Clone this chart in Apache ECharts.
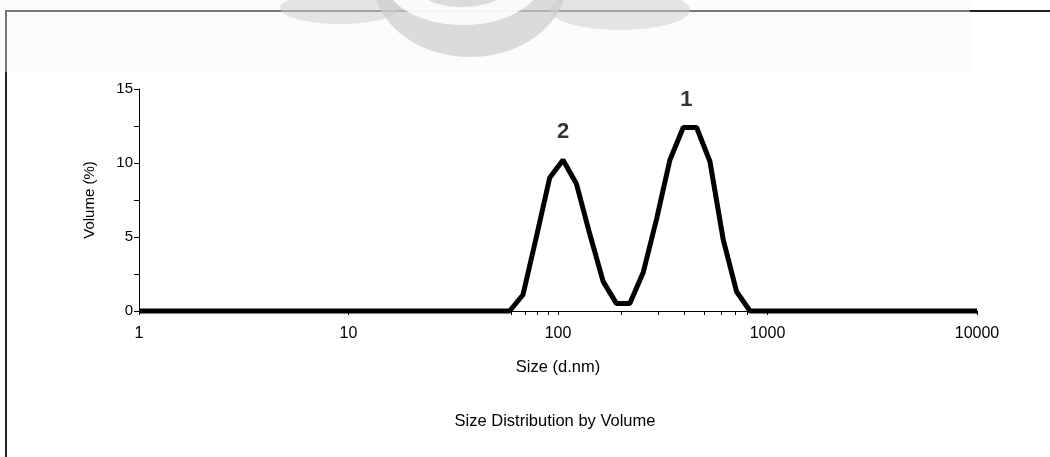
<!DOCTYPE html>
<html>
<head>
<meta charset="utf-8">
<script src="https://cdn.jsdelivr.net/npm/echarts@6/dist/echarts.min.js"></script>
<style>
  html, body { margin: 0; padding: 0; background: #fff; }
  #chart { width: 1050px; height: 457px; }
</style>
</head>
<body>
<div id="chart"></div>
<script>
// size bins (d.nm) and volume (%)
var sizes = [1, 50.75, 58.77, 68.06, 78.82, 91.28, 105.7, 122.4, 141.8, 164.2, 190.1, 220.2,
  255.0, 295.3, 342.0, 396.1, 458.7, 531.2, 615.1, 712.4, 825.0, 955.4, 10000]
var volumes = [0, 0, 0, 1.1, 5.0, 9.0, 10.2, 8.6, 5.2, 2.0, 0.5, 0.5,
  2.6, 6.2, 10.2, 12.4, 12.4, 10.1, 4.8, 1.3, 0, 0, 0]
// peak labels
var peakNames = ['2', '1']
var peakSizes = [105.7, 410]
var peakVolumes = [10.2, 12.4]
// axis ticks
var xLabelValues = [1, 10, 100, 1000, 10000]
var xTickValues = [1, 10, 60, 70, 80, 90, 100, 200, 300, 400, 500, 600, 700, 800, 1000, 10000]

var font = 'Liberation Sans, Arial, sans-serif'
var chart = echarts.init(document.getElementById('chart'))

chart.setOption({
  animation: false,
  textStyle: { fontFamily: font, color: '#000' },
  title: {
    text: 'Size Distribution by Volume',
    left: 550,
    top: 408,
    textAlign: 'center',
    textStyle: { fontSize: 16.5, fontWeight: 'normal', color: '#000', fontFamily: font }
  },
  grid: { left: 139, right: 73, top: 89, bottom: 146, containLabel: false },
  xAxis: {
    type: 'log',
    logBase: 10,
    min: 1,
    max: 10000,
    name: 'Size (d.nm)',
    nameLocation: 'middle',
    nameGap: 48,
    nameTextStyle: { fontSize: 16.5, color: '#000' },
    axisLine: { lineStyle: { color: '#000', width: 1 } },
    axisTick: { show: true, length: 4, customValues: xTickValues, lineStyle: { color: '#000' } },
    axisLabel: {
      customValues: xLabelValues,
      fontSize: 16,
      color: '#000',
      margin: 15,
      formatter: function (v) { return String(v) }
    },
    splitLine: { show: false }
  },
  yAxis: {
    type: 'value',
    min: 0,
    max: 15,
    interval: 2.5,
    name: 'Volume (%)',
    nameLocation: 'middle',
    nameGap: 42,
    nameTextStyle: { fontSize: 15, color: '#000' },
    axisLine: { show: true, lineStyle: { color: '#000', width: 1 } },
    axisTick: { show: true, length: 5, lineStyle: { color: '#000' } },
    axisLabel: {
      fontSize: 15,
      color: '#000',
      margin: 6,
      formatter: function (v) { return v % 5 === 0 ? String(v) : '' }
    },
    splitLine: { show: false }
  },
  series: [
    {
      type: 'line',
      data: sizes.map(function (s, i) { return [s, volumes[i]] }),
      showSymbol: false,
      lineStyle: { color: '#000', width: 5 },
      itemStyle: { color: '#000' },
      clip: false
    },
    {
      type: 'scatter',
      symbolSize: 0,
      data: peakNames.map(function (n, i) { return [peakSizes[i], peakVolumes[i], n] }),
      label: {
        show: true,
        position: 'inside',
        offset: [0, -28],
        formatter: function (p) { return p.data[2] },
        fontSize: 22,
        fontWeight: 'bold',
        color: '#000'
      }
    }
  ],
  graphic: [
    // outer frame
    { type: 'rect', shape: { x: 6, y: 11, width: 1100, height: 500 }, style: { fill: 'none', stroke: '#222', lineWidth: 2 }, z: 1 },
    // faded watermark band
    { type: 'rect', shape: { x: 0, y: 0, width: 970, height: 72 }, style: { fill: 'rgba(248,248,248,0.4)' }, z: 5 },
    { type: 'ellipse', shape: { cx: 340, cy: 8, rx: 60, ry: 16 }, style: { fill: 'rgba(205,205,205,0.5)' }, z: 5 },
    { type: 'ellipse', shape: { cx: 620, cy: 10, rx: 70, ry: 20 }, style: { fill: 'rgba(205,205,205,0.5)' }, z: 5 },
    { type: 'ellipse', shape: { cx: 470, cy: -20, rx: 97, ry: 77 }, style: { fill: 'rgba(205,205,205,0.7)' }, z: 6 },
    { type: 'ellipse', shape: { cx: 463, cy: -20, rx: 78, ry: 45 }, style: { fill: 'rgba(255,255,255,0.85)' }, z: 7 },
    { type: 'ellipse', shape: { cx: 462, cy: -12, rx: 44, ry: 19 }, style: { fill: 'rgba(205,205,205,0.7)' }, z: 8 }
  ]
})
</script>
</body>
</html>
